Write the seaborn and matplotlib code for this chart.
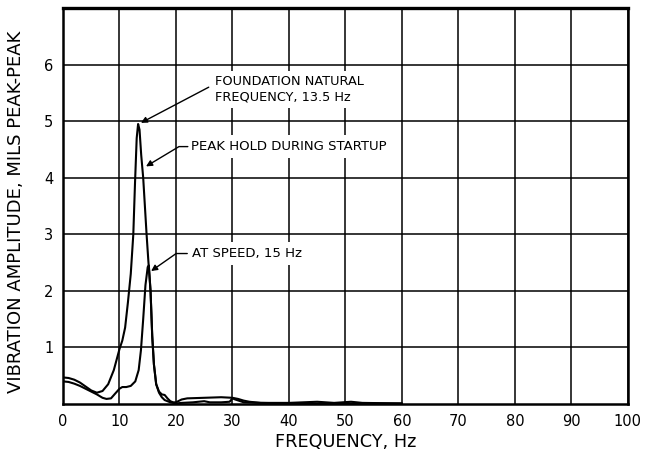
import numpy as np
import pandas as pd
import matplotlib
matplotlib.use("Agg")
import matplotlib.pyplot as plt
import seaborn as sns

# peak hold during startup (Hz, mils peak-peak)
peak_hz = [0, 1, 2, 3, 4, 5, 6, 7, 8, 9, 10, 10.5, 11, 11.5, 12, 12.45, 12.75,
           13.05, 13.3, 13.55, 13.85, 14.2, 14.5, 14.8, 15.1, 15.5, 15.8, 16.1,
           16.5, 17, 17.5, 18, 18.5, 19, 19.5, 20, 21, 22, 25, 28, 30, 31, 32,
           33, 35, 40, 45, 48, 51, 53, 60]
peak_amp = [0.47, 0.46, 0.43, 0.38, 0.31, 0.24, 0.20, 0.23, 0.35, 0.60, 0.97,
            1.12, 1.35, 1.80, 2.30, 3.00, 3.90, 4.70, 4.95, 4.85, 4.40, 4.00,
            3.50, 3.00, 2.55, 2.00, 1.20, 0.70, 0.35, 0.22, 0.17, 0.16, 0.10,
            0.05, 0.03, 0.03, 0.08, 0.10, 0.11, 0.12, 0.11, 0.09, 0.06, 0.04,
            0.02, 0.02, 0.04, 0.02, 0.04, 0.02, 0.01]

# at speed, 15 Hz
speed_hz = [0, 1, 2, 3, 4, 5, 6, 7, 7.7, 8.5, 9.2, 10, 10.5, 11.2, 12, 12.8,
            13.4, 13.8, 14.2, 14.6, 15.0, 15.2, 15.5, 15.8, 16.1, 16.5, 17,
            17.5, 18, 19, 20, 21, 23, 25, 26, 28, 29.5, 30, 30.5, 32, 35, 40,
            50, 60]
speed_amp = [0.40, 0.39, 0.36, 0.32, 0.27, 0.22, 0.17, 0.11, 0.09, 0.10, 0.18,
             0.27, 0.30, 0.30, 0.32, 0.40, 0.60, 0.95, 1.50, 2.10, 2.42, 2.45,
             2.00, 1.20, 0.70, 0.35, 0.20, 0.12, 0.07, 0.03, 0.01, 0.02, 0.03,
             0.05, 0.03, 0.03, 0.04, 0.10, 0.08, 0.03, 0.02, 0.01, 0.01, 0.01]

x_ticks = list(range(0, 101, 10))
y_ticks = [1, 2, 3, 4, 5, 6]

sns.set_theme(style="white")
plt.rcParams['font.family'] = ['DejaVu Sans']
plt.rcParams['text.color'] = 'black'
plt.rcParams['xtick.color'] = 'black'
plt.rcParams['ytick.color'] = 'black'
plt.rcParams['axes.labelcolor'] = 'black'

df = pd.concat([
    pd.DataFrame({"hz": peak_hz, "amp": peak_amp, "curve": "peak"}),
    pd.DataFrame({"hz": speed_hz, "amp": speed_amp, "curve": "speed"}),
])

fig = plt.figure(figsize=(6.54, 4.62), dpi=100)
ax = fig.add_axes([0.0963, 0.1255, 0.8637, 0.8572])

sns.lineplot(data=df, x="hz", y="amp", units="curve", estimator=None,
             color="black", linewidth=1.5, sort=False, ax=ax, zorder=3)

ax.set_xlim(0, 100)
ax.set_ylim(0, 7)
ax.set_xticks(x_ticks)
ax.set_yticks(y_ticks)
ax.set_xticklabels([str(t) for t in x_ticks], fontsize=10.5)
ax.set_yticklabels([str(t) for t in y_ticks], fontsize=10.5)
ax.tick_params(length=0, pad=7)
ax.grid(True, color="black", linewidth=1.1)
ax.set_axisbelow(True)
for side, sp in ax.spines.items():
    sp.set_color("black")
    sp.set_linewidth(2.4 if side == "top" else 1.8)

ax.set_xlabel("FREQUENCY, Hz", fontsize=12.7, labelpad=3)
ax.set_ylabel("VIBRATION AMPLITUDE, MILS PEAK-PEAK", fontsize=13)
ax.yaxis.set_label_coords(-0.068, 0.485)

box = dict(boxstyle="square,pad=0.35", facecolor="white", edgecolor="none")

# labels
ax.text(26.9, 5.56, "FOUNDATION NATURAL\nFREQUENCY, 13.5 Hz", fontsize=9.3,
        ha="left", va="center", linespacing=1.25, bbox=box, zorder=4)
ax.text(22.6, 4.55, "PEAK HOLD DURING STARTUP", fontsize=9.5,
        ha="left", va="center", bbox=box, zorder=4)
ax.text(22.8, 2.66, "AT SPEED, 15 Hz", fontsize=9.5,
        ha="left", va="center", bbox=box, zorder=4)

# leaders
head = dict(arrowstyle="-|>", color="black", lw=1.0, mutation_scale=9,
            shrinkA=0, shrinkB=0)
ax.annotate("", xy=(13.8, 4.97), xytext=(25.8, 5.6),
            arrowprops=dict(head), zorder=5)
ax.annotate("", xy=(14.7, 4.2), xytext=(22.1, 4.55),
            arrowprops=dict(head, connectionstyle="angle,angleA=0,angleB=31,rad=0"),
            zorder=5)
ax.annotate("", xy=(15.6, 2.35), xytext=(22.0, 2.66),
            arrowprops=dict(head, connectionstyle="angle,angleA=0,angleB=35,rad=0"),
            zorder=5)

fig.savefig("out.png", dpi=100)
